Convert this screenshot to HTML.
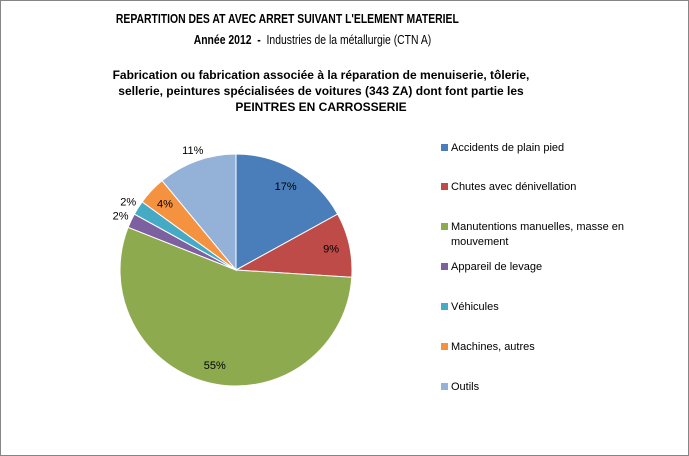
<!DOCTYPE html>
<html><head><meta charset="utf-8"><style>
body{margin:0;background:#fff;font-family:"Liberation Sans",sans-serif;}
#c{position:relative;width:687px;height:454px;border:1px solid #868686;background:#fff;overflow:hidden}
.t{position:absolute;left:0;text-align:center;font-size:13px;color:#000;white-space:nowrap}
.t span{display:inline-block;transform:scaleX(0.8);transform-origin:center}
.lg{position:absolute;font-size:11px;color:#000}
.sw{position:absolute;width:7px;height:7px}
</style></head><body>
<div id="c">
<div class="t" style="top:10px;width:572px;font-weight:bold"><span>REPARTITION DES AT AVEC ARRET SUIVANT L'ELEMENT MATERIEL</span></div>
<div class="t" style="top:31px;width:622px"><span><b>Année 2012&nbsp; - </b>&nbsp;Industries de la métallurgie (CTN A)</span></div>
<div class="t" style="top:66px;font-weight:bold;font-size:12px;line-height:16px;left:40px;width:560px;white-space:normal">Fabrication ou fabrication associée à la réparation de menuiserie, tôlerie,<br>sellerie, peintures spécialisées de voitures (343 ZA) dont font partie les<br>PEINTRES EN CARROSSERIE</div>
<svg id="pie" width="687" height="454" style="position:absolute;left:0;top:0"></svg>
<div id="legend"></div>
</div>
<script>
const categories=["Accidents de plain pied","Chutes avec dénivellation","Manutentions manuelles, masse en mouvement","Appareil de levage","Véhicules","Machines, autres","Outils"];
const values=[17,9,55,2,2,4,11];
const labels=["17%","9%","55%","2%","2%","4%","11%"];
const colors=["#4A7EBB","#BE4B48","#8EAA4F","#7D60A0","#46AAC5","#F59240","#94B1D8"];
const outside=[false,false,false,true,true,false,true];
const cx=235,cy=269,r=116;
const svg=document.getElementById('pie');
const NS="http://www.w3.org/2000/svg";
const total=values.reduce((a,b)=>a+b,0);
let a0=-Math.PI/2;
values.forEach((v,i)=>{
  const a1=a0+v/total*2*Math.PI;
  const x0=cx+r*Math.cos(a0),y0=cy+r*Math.sin(a0),x1=cx+r*Math.cos(a1),y1=cy+r*Math.sin(a1);
  const p=document.createElementNS(NS,'path');
  p.setAttribute('d',`M${cx},${cy}L${x0},${y0}A${r},${r} 0 ${a1-a0>Math.PI?1:0} 1 ${x1},${y1}Z`);
  p.setAttribute('fill',colors[i]);p.setAttribute('stroke','#fff');p.setAttribute('stroke-width','1');
  
  
  svg.appendChild(p);
  const am=(a0+a1)/2;
  const lr=outside[i]?r*1.1:r*0.84;
  const t=document.createElementNS(NS,'text');
  t.setAttribute('x',cx+lr*Math.cos(am));t.setAttribute('y',cy+lr*Math.sin(am)+4);
  t.setAttribute('text-anchor','middle');t.setAttribute('font-size','11');
  t.setAttribute('font-family','Liberation Sans, sans-serif');
  t.textContent=labels[i];
  
  
  svg.appendChild(t);
  a0=a1;
});
const lg=document.getElementById('legend');
const ys=[147,186,226,266,306,346,386];
categories.forEach((c,i)=>{
  const s=document.createElement('div');s.className='sw';
  s.style.left='440px';s.style.top=(ys[i]-4)+'px';s.style.background=colors[i];
  
  
  lg.appendChild(s);
  const t=document.createElement('div');t.className='lg';
  t.style.left='450px';t.style.top=(ys[i]-7)+'px';t.style.width='200px';t.style.lineHeight='15px';
  t.textContent=c;
  
  
  lg.appendChild(t);
});
</script>
</body></html>
